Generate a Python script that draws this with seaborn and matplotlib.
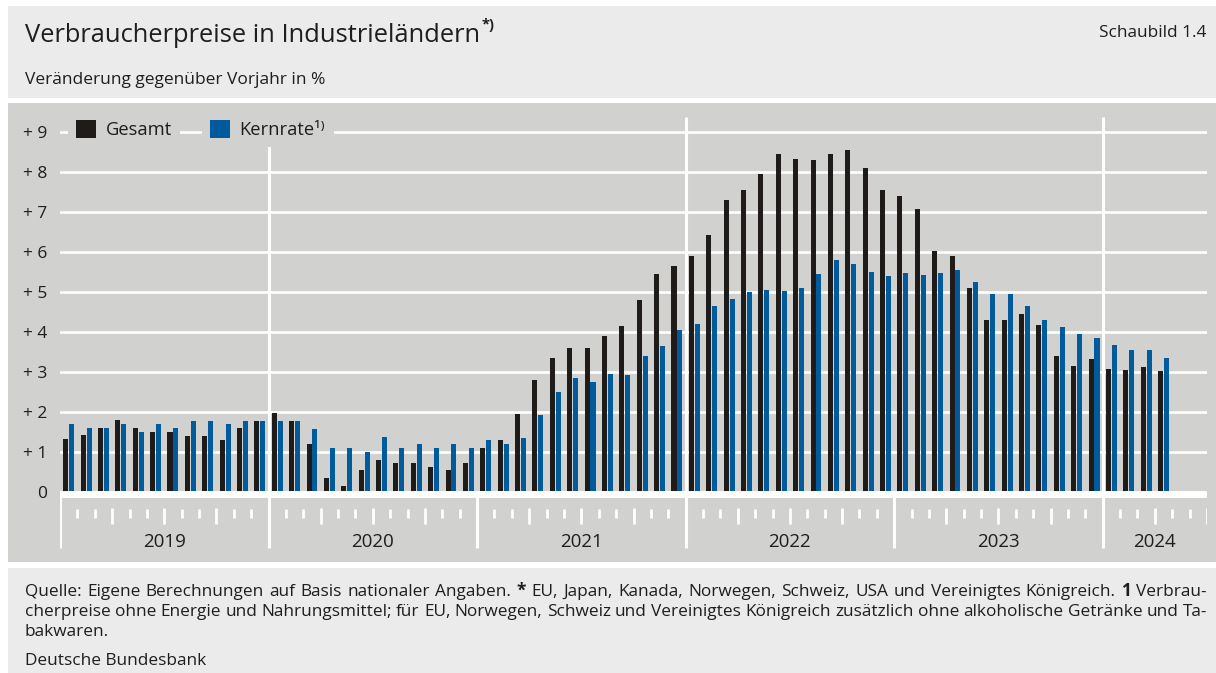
import numpy as np
import pandas as pd
import matplotlib
matplotlib.use("Agg")
import matplotlib.pyplot as plt
import seaborn as sns
from matplotlib.patches import Rectangle, Patch

# ---------------- data ----------------
gesamt = [1.33, 1.44, 1.62, 1.81, 1.60, 1.51, 1.51, 1.42, 1.40, 1.32, 1.60, 1.79,
          1.99, 1.79, 1.22, 0.37, 0.17, 0.55, 0.82, 0.73, 0.74, 0.64, 0.56, 0.74,
          1.11, 1.30, 1.95, 2.80, 3.36, 3.62, 3.62, 3.90, 4.17, 4.82, 5.47, 5.65,
          5.92, 6.44, 7.32, 7.56, 7.96, 8.45, 8.33, 8.32, 8.46, 8.57, 8.10, 7.55,
          7.40, 7.08, 6.04, 5.92, 5.11, 4.31, 4.30, 4.45, 4.18, 3.42, 3.17, 3.34,
          3.08, 3.06, 3.13, 3.03]
kernrate = [1.72, 1.62, 1.62, 1.71, 1.52, 1.71, 1.60, 1.79, 1.79, 1.70, 1.79, 1.79,
            1.79, 1.79, 1.58, 1.12, 1.12, 1.02, 1.39, 1.10, 1.20, 1.11, 1.20, 1.11,
            1.30, 1.20, 1.37, 1.94, 2.50, 2.87, 2.77, 2.95, 2.94, 3.40, 3.67, 4.05,
            4.22, 4.67, 4.83, 5.00, 5.07, 5.04, 5.12, 5.47, 5.82, 5.70, 5.51, 5.40,
            5.48, 5.44, 5.49, 5.55, 5.25, 4.97, 4.96, 4.67, 4.31, 4.13, 3.95, 3.86,
            3.68, 3.57, 3.56, 3.36]
series_names = ["Gesamt", "Kernrate"]
legend_labels = ["Gesamt", "Kernrate\u00b9\u207e"]
start_month = "2019-01"
axis_end_month = "2024-06"
y_ticks = [0, 1, 2, 3, 4, 5, 6, 7, 8, 9]
y_tick_labels = ["0", "+ 1", "+ 2", "+ 3", "+ 4", "+ 5", "+ 6", "+ 7", "+ 8", "+ 9"]

title = "Verbraucherpreise in Industrieländern"
title_sup = "*)"
subtitle = "Veränderung gegenüber Vorjahr in %"
figure_no = "Schaubild 1.4"
foot_lines = [
    "Quelle: Eigene Berechnungen auf Basis nationaler Angaben. * EU, Japan, Kanada, Norwegen, Schweiz, USA und Vereinigtes Königreich. 1 Verbrau-",
    "cherpreise ohne Energie und Nahrungsmittel; für EU, Norwegen, Schweiz und Vereinigtes Königreich zusätzlich ohne alkoholische Getränke und Ta-",
    "bakwaren.",
]
foot_bold = ["*", "1"]
source = "Deutsche Bundesbank"

# ---------------- styling ----------------
colors = ["#1f1b18", "#005b9c"]
panel = "#d1d1cf"
box = "#ebebeb"
txt = "#1e1e1e"

months = pd.period_range(start_month, periods=len(gesamt), freq="M")
axis_months = pd.period_range(start_month, axis_end_month, freq="M")
n_axis = len(axis_months)

df = pd.DataFrame({
    "Monat": np.tile(months.astype(str), 2),
    "Reihe": np.repeat(series_names, len(months)),
    "Wert": gesamt + kernrate,
})

W, H = 1216, 673
sns.set_theme(style="white")
plt.rcParams["font.family"] = ["Open Sans", "DejaVu Sans"]

fig = plt.figure(figsize=(W / 100, H / 100), dpi=100)
fig.patch.set_facecolor("white")


def fx(x):
    return x / W


def fy(y):
    return 1 - y / H


for (x0, y0, x1, y1, c) in [(8, 6, W, 98, box), (8, 103, W, 562, panel), (8, 568, W, H, box)]:
    fig.add_artist(Rectangle((fx(x0), fy(y1)), fx(x1) - fx(x0), fy(y0) - fy(y1),
                             transform=fig.transFigure, facecolor=c, edgecolor="none", zorder=-10))

ax = fig.add_axes([fx(60), fy(562), fx(1207) - fx(60), fy(117) - fy(562)])
ax.set_facecolor("none")

zero_px, ppu = 492.3, 40.0
ylim_top = (zero_px - 117) / ppu
ylim_bot = (zero_px - 562) / ppu


def val(ypx):
    return (zero_px - ypx) / ppu


sns.barplot(data=df, x="Monat", y="Wert", hue="Reihe", hue_order=series_names,
            order=list(months.astype(str)), palette=colors, width=0.68, gap=0.15,
            saturation=1, legend=False, errorbar=None, ax=ax, zorder=3,
            edgecolor="none", linewidth=0)

ax.set_xlim(-0.5, n_axis - 0.5)
ax.set_ylim(ylim_bot, ylim_top)
for s in ax.spines.values():
    s.set_visible(False)

for v in y_ticks[1:]:
    ax.axhline(v, color="white", lw=1.9, zorder=1)
ax.axhline(-0.04, color="white", lw=5, zorder=4)

# month / quarter / year ticks below the bars; tall separators every second year
for k in range(0, n_axis + 1):
    xb = k - 0.5
    if k % 12 == 0:
        top = ylim_top if (0 < k < n_axis and k % 24 == 12) else val(495)
        ax.vlines(xb, val(548), top, color="white", lw=2.2, zorder=2)
    elif k % 3 == 0:
        ax.vlines(xb, val(524), val(508), color="white", lw=2.0, zorder=2)
    else:
        ax.vlines(xb, val(518), val(509), color="white", lw=2.0, zorder=2)

years = axis_months.year
for yr in sorted(set(years)):
    idx = np.where(years == yr)[0]
    ax.text((idx[0] + idx[-1]) / 2, val(541.7), str(yr), ha="center", va="center",
            fontsize=13.5, color=txt, zorder=5)

ax.set_xticks([])
ax.set_xlabel("")
ax.set_ylabel("")
ax.set_yticks(y_ticks, y_tick_labels)
ax.tick_params(axis="y", length=0, pad=9, labelsize=12.5, labelcolor=txt)

# legends: one box per entry
for lab, col, xl in zip(legend_labels, colors, [68, 202]):
    leg = ax.legend(handles=[Patch(facecolor=col, edgecolor="none")], labels=[lab],
                    loc="center left", bbox_to_anchor=(fx(xl), fy(129.5)),
                    bbox_transform=fig.transFigure, frameon=True, facecolor=panel,
                    edgecolor="none", framealpha=1, fancybox=False, fontsize=13.2,
                    handlelength=1.1, handleheight=1.1, handletextpad=0.5,
                    borderpad=0.45, borderaxespad=0)
    for t in leg.get_texts():
        t.set_color(txt)
    leg.set_zorder(6)
    ax.add_artist(leg)

# header
renderer = fig.canvas.get_renderer()
t_title = fig.text(fx(25), fy(41.7), title, fontsize=18.4, color=txt, va="baseline", ha="left")
bb = t_title.get_window_extent(renderer=renderer)
fig.text(fx(bb.x1 + 1), fy(29), title_sup, fontsize=10.5, fontweight="bold", color=txt,
         va="baseline", ha="left")
fig.text(fx(25), fy(84.3), subtitle, fontsize=12.5, color=txt, va="baseline", ha="left")
fig.text(fx(1206.7), fy(36.7), figure_no, fontsize=12.4, color=txt, va="baseline", ha="right")

# footer (justified lines)
fs_foot = 12.4
foot_base = [596, 616, 636]


def place_line(line, x0, x1, ybase, justify):
    words = line.split(" ")
    arts = []
    for w in words:
        wt = "bold" if w in foot_bold else "normal"
        arts.append(fig.text(fx(x0), fy(ybase), w, fontsize=fs_foot, fontweight=wt,
                             color=txt, va="baseline", ha="left"))
    widths = [a.get_window_extent(renderer=renderer).width for a in arts]
    if justify and len(arts) > 1:
        gap = (x1 - x0 - sum(widths)) / (len(arts) - 1)
    else:
        gap = fs_foot * 100 / 72 * 0.26
    x = x0
    for a, wd in zip(arts, widths):
        a.set_x(fx(x))
        x += wd + gap


for i, line in enumerate(foot_lines):
    place_line(line, 25, 1207, foot_base[i], justify=(i < len(foot_lines) - 1))
fig.text(fx(25), fy(665), source, fontsize=fs_foot, color=txt, va="baseline", ha="left")

fig.savefig("out.png", dpi=100, facecolor="white")
